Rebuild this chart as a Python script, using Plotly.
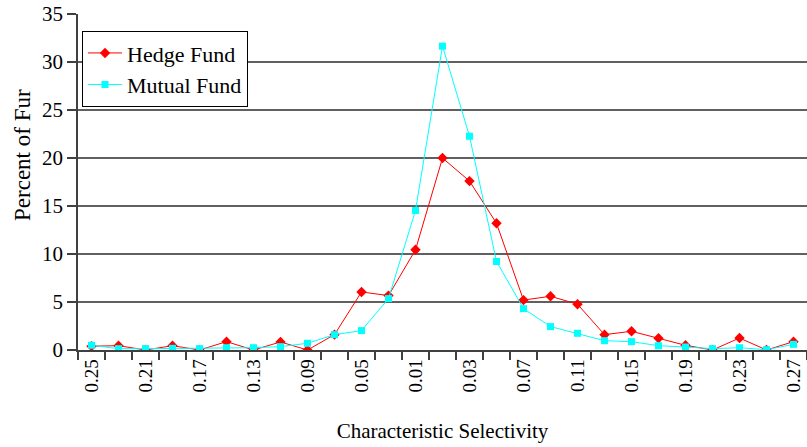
import plotly.graph_objects as go

x_vals = [-0.25, -0.23, -0.21, -0.19, -0.17, -0.15, -0.13, -0.11, -0.09, -0.07, -0.05, -0.03, -0.01,
          0.01, 0.03, 0.05, 0.07, 0.09, 0.11, 0.13, 0.15, 0.17, 0.19, 0.21, 0.23, 0.25, 0.27]
hedge = [0.4, 0.45, 0.0, 0.45, 0.0, 0.87, 0.0, 0.84, 0.0, 1.6, 6.05, 5.67, 10.44,
         20.0, 17.6, 13.2, 5.2, 5.6, 4.77, 1.6, 1.95, 1.22, 0.49, 0.0, 1.25, 0.0, 0.87]
mutual = [0.49, 0.14, 0.14, 0.17, 0.14, 0.24, 0.24, 0.35, 0.7, 1.6, 2.02, 5.36, 14.54,
          31.66, 22.27, 9.22, 4.31, 2.44, 1.74, 0.97, 0.87, 0.45, 0.31, 0.14, 0.24, 0.03, 0.59]
tick_vals = x_vals[::2]
tick_text = ["0.25", "0.21", "0.17", "0.13", "0.09", "0.05", "0.01",
             "0.03", "0.07", "0.11", "0.15", "0.19", "0.23", "0.27"]
y_ticks = [0, 5, 10, 15, 20, 25, 30, 35]

FONT = "Liberation Serif"

fig = go.Figure()
fig.add_trace(go.Scatter(x=x_vals, y=hedge, name="Hedge Fund", mode="lines+markers",
                         line=dict(color="#FF0000", width=1),
                         marker=dict(symbol="diamond", size=8, color="#FF0000")))
fig.add_trace(go.Scatter(x=x_vals, y=mutual, name="Mutual Fund", mode="lines+markers",
                         line=dict(color="#00FFFF", width=1),
                         marker=dict(symbol="square", size=7, color="#00FFFF")))

step = 0.02
bounds = [round(v - step / 2, 3) for v in x_vals] + [round(x_vals[-1] + step / 2, 3)]

fig.update_layout(
    width=807, height=447,
    margin=dict(l=78, r=0, t=14, b=97),
    paper_bgcolor="white", plot_bgcolor="white",
    font=dict(family=FONT, color="black"),
    showlegend=True,
    legend=dict(x=0.0055, y=0.949, xanchor="left", yanchor="top",
                bordercolor="black", borderwidth=1, bgcolor="white",
                font=dict(family=FONT, size=22, color="black"),
                tracegroupgap=0, itemwidth=34),
    xaxis=dict(range=[bounds[0], bounds[-1]], tickmode="array", tickvals=tick_vals, ticktext=tick_text,
               tickangle=-90, ticks="", ticklen=0, showgrid=False, zeroline=False, automargin=False,
               showline=True, linecolor="#404040", linewidth=1.5, ticklabeloverflow="allow",
               tickfont=dict(family=FONT, size=19, color="black"),
               minor=dict(tickmode="array", tickvals=bounds, ticks="outside", ticklen=8,
                          tickcolor="#404040", tickwidth=1.5, showgrid=False),
               title=dict(text="Characteristic Selectivity", font=dict(family=FONT, size=21, color="black"),
                          standoff=32)),
    yaxis=dict(range=[0, 35.01], tickmode="array", tickvals=y_ticks, ticks="outside", ticklen=9,
               tickcolor="#404040", tickwidth=1.5, automargin=False, ticklabeloverflow="allow",
               showgrid=True, gridcolor="#606060", gridwidth=1.5, zeroline=False,
               showline=True, linecolor="#404040", linewidth=1.5,
               tickfont=dict(family=FONT, size=21, color="black")),
    annotations=[dict(text="Percent of Fur", xref="paper", yref="paper", x=-0.077, y=0.58,
                      xanchor="center", yanchor="middle", textangle=-90, showarrow=False,
                      font=dict(family=FONT, size=23, color="black"))],
)

fig.write_html("out.html", config={"displayModeBar": False},
               post_script="document.body.style.margin='0';")
